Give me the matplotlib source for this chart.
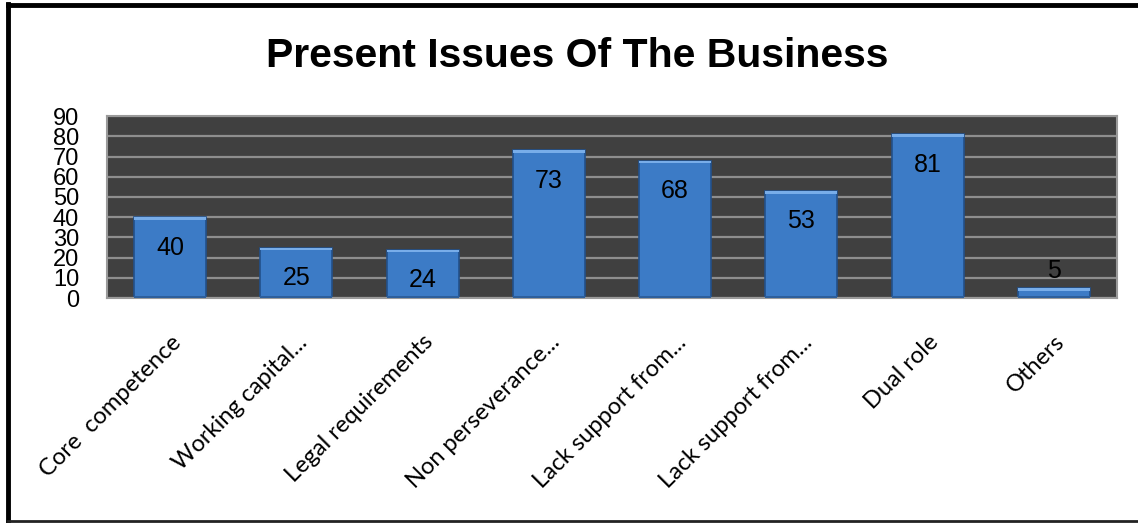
import matplotlib.pyplot as plt
from matplotlib.lines import Line2D
import numpy as np

plt.rcParams['font.family'] = ['Liberation Sans', 'DejaVu Sans']

categories = ['Core  competence', 'Working capital...', 'Legal requirements',
              'Non perseverance...', 'Lack support from...', 'Lack support from...',
              'Dual role', 'Others']
values = [40, 25, 24, 73, 68, 53, 81, 5]
yticks = [0, 10, 20, 30, 40, 50, 60, 70, 80, 90]

fig = plt.figure(figsize=(11.38, 5.23), dpi=100)
ax = fig.add_axes([0.094, 0.430, 0.8875, 0.348])

x = np.arange(len(categories))
width = 0.57

ax.set_facecolor('#404040')
ax.set_axisbelow(True)
ax.yaxis.grid(True, color='#8e8e8e', linewidth=1.6)

# bars with a lighter bevel strip along the top and darker base
ax.bar(x, values, width=width, color='#3c7bc6', edgecolor='#22508a', linewidth=1.2, zorder=2)
ax.bar(x, [1.4] * len(values), bottom=np.array(values) - 1.4, width=width,
       color='#78ade9', linewidth=0, zorder=3)
ax.bar(x, [1.0] * len(values), width=width, color='#2d5f9c', linewidth=0, zorder=3)

for xi, v in zip(x, values):
    if v > 15:
        ax.annotate(str(v), (xi, v), xytext=(0, -22), textcoords='offset points',
                    ha='center', va='center', fontsize=18, color='black', zorder=4)
    else:
        ax.annotate(str(v), (xi, v), xytext=(0, 12), textcoords='offset points',
                    ha='center', va='center', fontsize=18, color='black', zorder=4)

ax.set_xlim(-0.5, len(categories) - 0.5)
ax.set_ylim(0, 90)
ax.set_yticks(yticks)
ax.set_yticklabels([str(t) for t in yticks], fontsize=17)
ax.tick_params(axis='y', length=0, pad=20)
ax.set_xticks(x)
ax.set_xticklabels(categories, rotation=45, ha='right', va='top',
                   rotation_mode='anchor', fontsize=17, family=['Lato', 'DejaVu Sans'])
ax.tick_params(axis='x', length=0, pad=24)
for s in ax.spines.values():
    s.set_color('#9a9a9a')
    s.set_linewidth(1.5)

fig.text(0.507, 0.893, 'Present Issues Of The Business', ha='center', va='center',
         fontsize=29.5, fontweight='bold')

# frame around the chart (no right edge)
fig.add_artist(Line2D([0.007, 1.0], [0.9895, 0.9895], color='black', linewidth=3.5))
fig.add_artist(Line2D([0.0070, 0.0070], [0.0, 0.993], color='black', linewidth=3.5))
fig.add_artist(Line2D([0.007, 1.0], [0.003, 0.003], color='#222222', linewidth=2))

fig.savefig('out.png', dpi=100)
